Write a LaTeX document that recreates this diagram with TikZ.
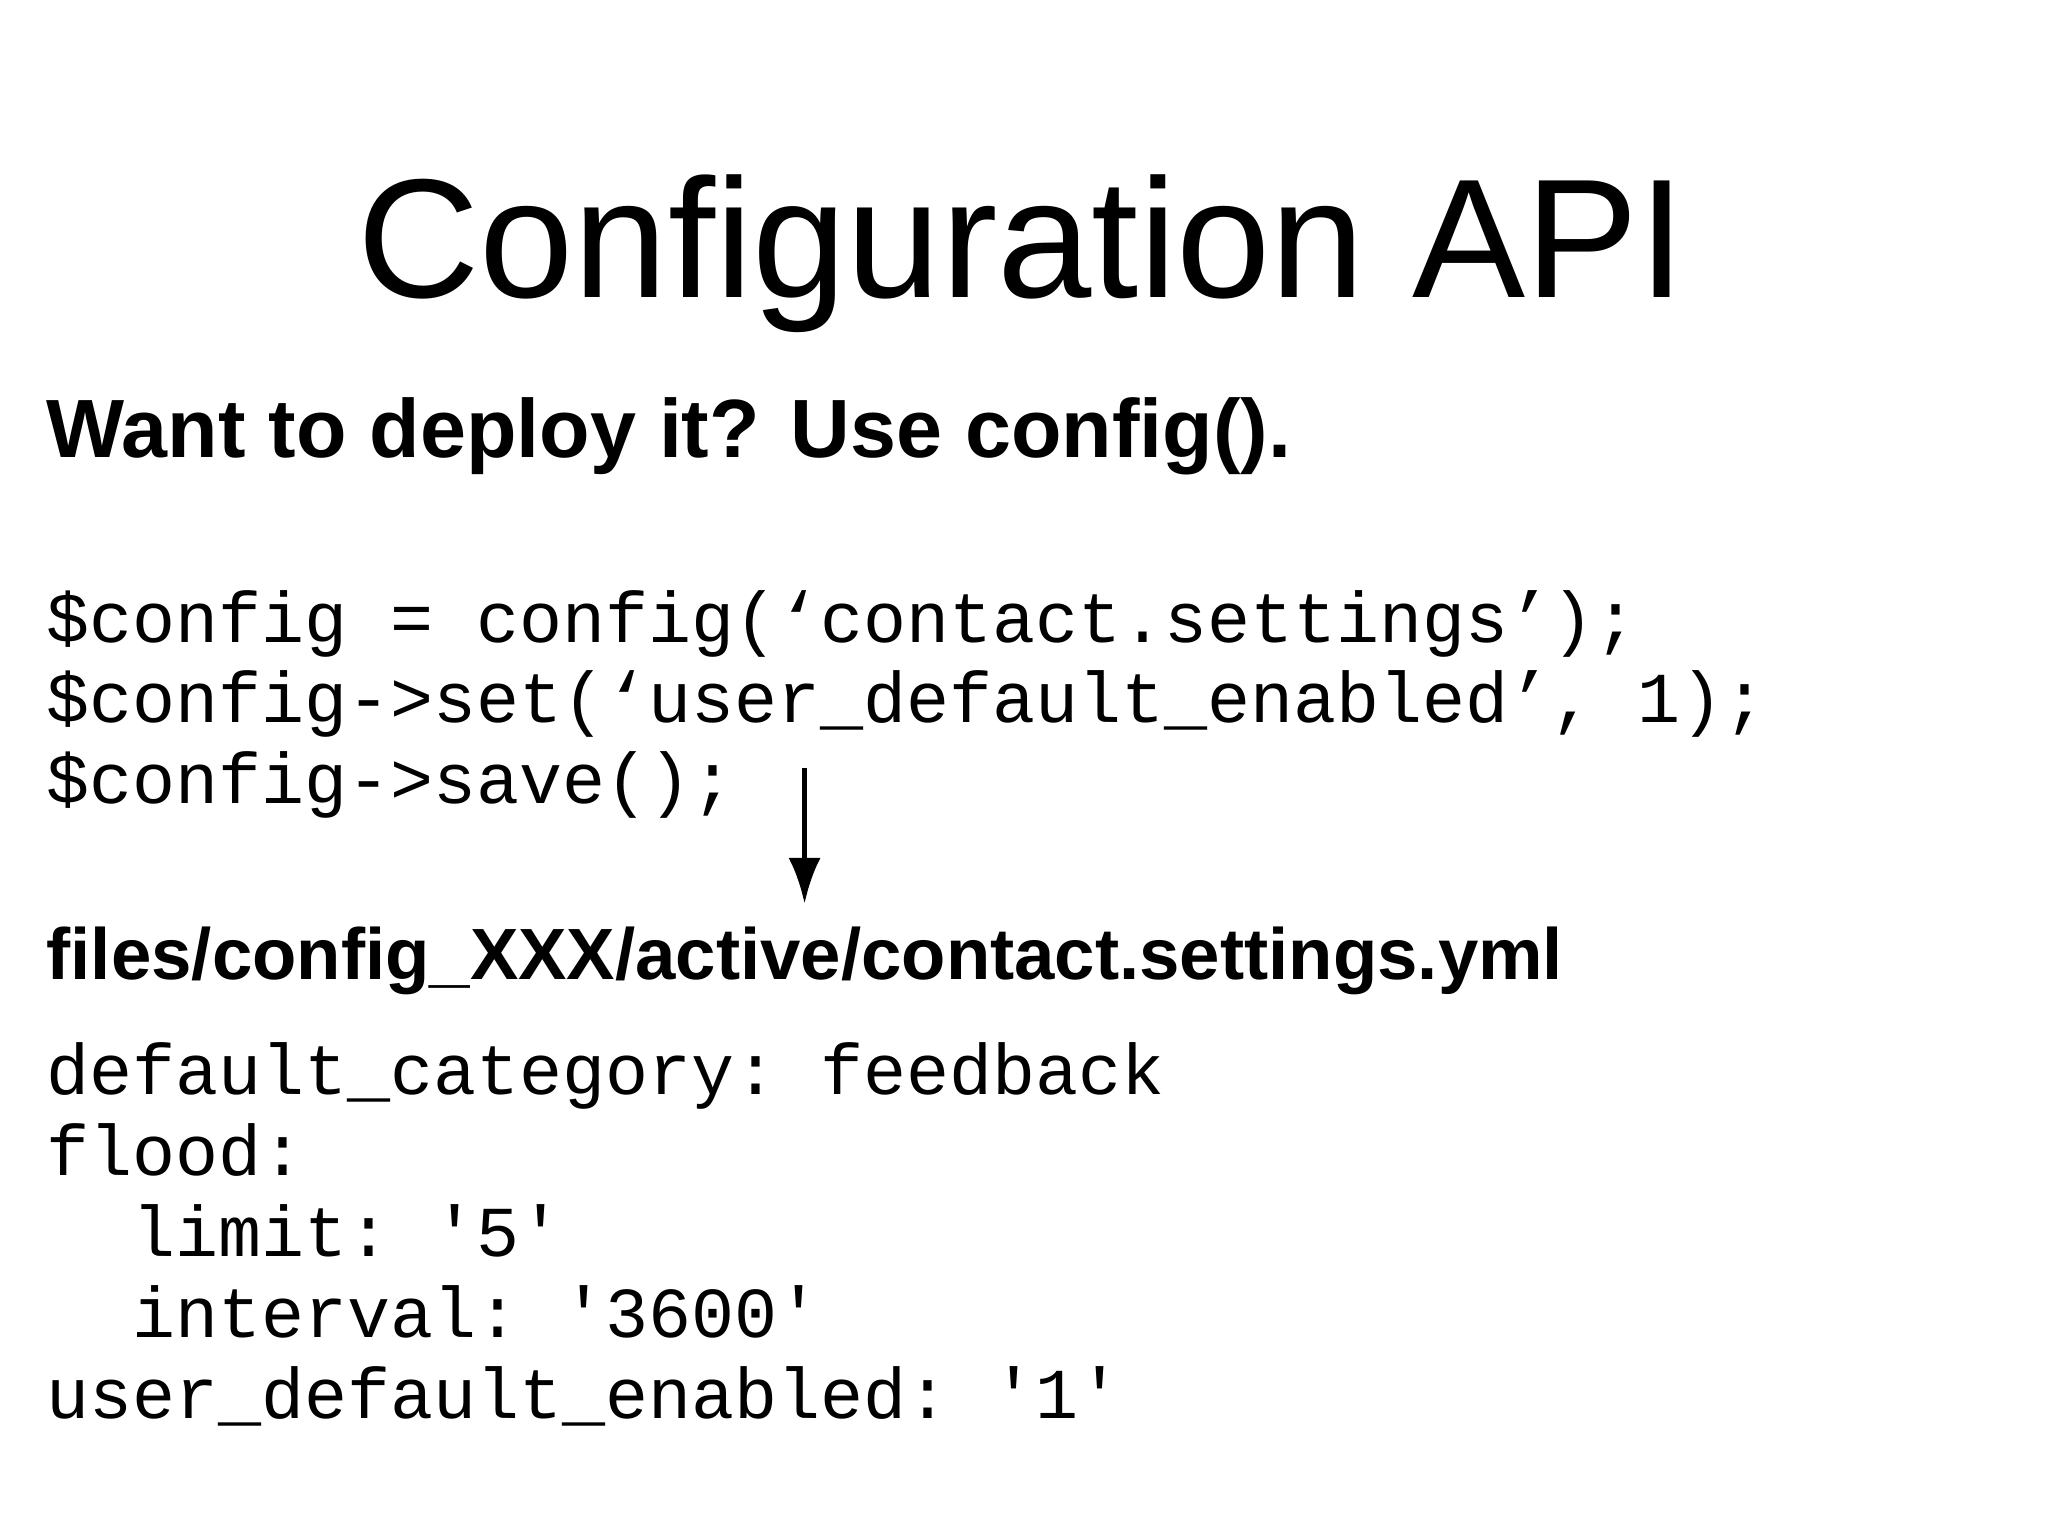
\documentclass[tikz,border=0pt]{standalone}
\usepackage{fontspec}
\usetikzlibrary{arrows.meta}
\setmainfont{Liberation Sans}
\setmonofont{Liberation Mono}
\begin{document}
\begin{tikzpicture}[x=0.01cm,y=-0.01cm,
  code/.style={anchor=base west,inner sep=0pt,font=\fontsize{15.6pt}{18pt}\ttfamily},
  yml/.style={anchor=base west,inner sep=0pt,font=\fontsize{15.6pt}{18pt}\ttfamily},
  head/.style={anchor=base west,inner sep=0pt}]
\useasboundingbox (0,0) rectangle (1568,1176);
\node[anchor=base,inner sep=0pt,font=\fontsize{36.9pt}{44pt}\selectfont] (title) at (782,228) {Configuration API};
\node[head,font=\fontsize{18pt}{22pt}\bfseries] (sub) at (35,350) {Want to deploy it? Use config().};
\node[code] (c1) at (35,492) {\$config = config(‘contact.settings’);};
\node[code] (c2) at (35,553) {\$config->set(‘user\_default\_enabled’, 1);};
\node[code] (c3) at (35,615) {\$config->save();};
\coordinate (a1) at (616,588);
\coordinate (a2) at (616,692);
\draw[line width=1.2pt,-{Latex[length=10pt,width=7pt]}] (a1) -- (a2);
\node[head,font=\fontsize{15.8pt}{18pt}\bfseries] (file) at (35,750) {files/config\_XXX/active/contact.settings.yml};
\node[yml] (y1) at (35,838) {default\_category: feedback};
\node[yml] (y2) at (35,900) {flood:};
\node[yml] (y3) at (35,962) {\ \ limit: '5'};
\node[yml] (y4) at (35,1024) {\ \ interval: '3600'};
\node[yml] (y5) at (35,1086) {user\_default\_enabled: '1'};
\end{tikzpicture}
\end{document}
